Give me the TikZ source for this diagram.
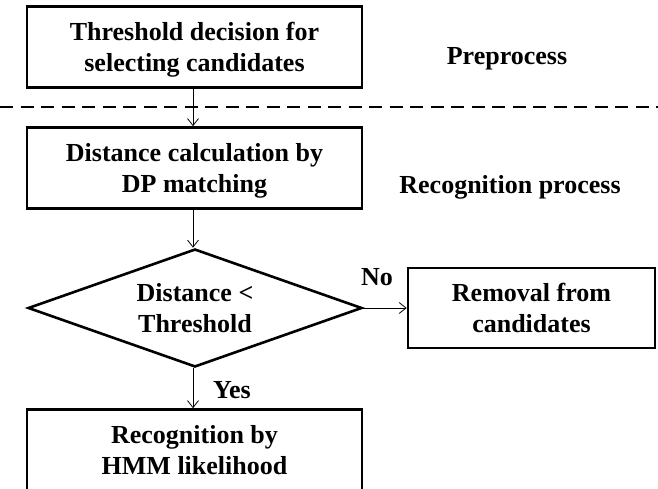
\documentclass[tikz,border=0pt]{standalone}
\usepackage{fontspec}
\setmainfont{Liberation Serif}
\usepackage{tikz}
\usetikzlibrary{shapes.geometric, arrows.meta}

\tikzset{
    lowtext/.style={text depth=-5pt},
    procbox/.style={draw, line width=2.6pt, minimum width=335pt, minimum height=81pt,
        align=center, inner sep=0pt, lowtext},
    decision/.style={draw, diamond, line width=2.6pt, minimum width=334pt, minimum height=118pt,
        aspect=2.8, align=center, inner sep=0pt, lowtext},
    flow/.style={line width=0.8pt, -{Straight Barb[length=7pt,width=11pt]}},
}

\begin{document}
\begin{tikzpicture}[x=1pt, y=-1pt, font=\fontsize{26}{31}\selectfont\bfseries]
        \clip (0,0) rectangle (658,489);
        \useasboundingbox (0,0) rectangle (658,489);

        % Preprocess stage
        \node[procbox] (thresh) at (194.5,47) {Threshold decision for\\selecting candidates};
        \node (pre) at (507,59) {Preprocess};

        % Separator
        \draw[line width=2.8pt, dash pattern=on 13pt off 7.5pt] (0,107) -- (658,107);

        % Recognition stage
        \node[procbox] (dist) at (194.5,168) {Distance calculation by\\DP matching};
        \node (rec) at (510,187) {Recognition process};
        \node[decision] (cmp) at (195,308) {Distance <\\Threshold};
        \node[procbox, minimum width=247pt, minimum height=80pt] (remove) at (531.5,308) {Removal from\\candidates};
        \node[procbox] (hmm) at (194.5,450) {Recognition by\\HMM likelihood};

        % Connectors
        \draw[flow] (thresh.south -| 193,0) -- (dist.north -| 193,0);
        \draw[flow] (dist.south -| 193,0) -- (cmp.north -| 193,0);
        \draw[flow] (cmp.east) -- (remove.west);
        \draw[flow] (cmp.south -| 193,0) -- (hmm.north -| 193,0);

        % Labels
        \node (no) at (377,277) {No};
        \node (yes) at (232,390) {Yes};
    \end{tikzpicture}
\end{document}
